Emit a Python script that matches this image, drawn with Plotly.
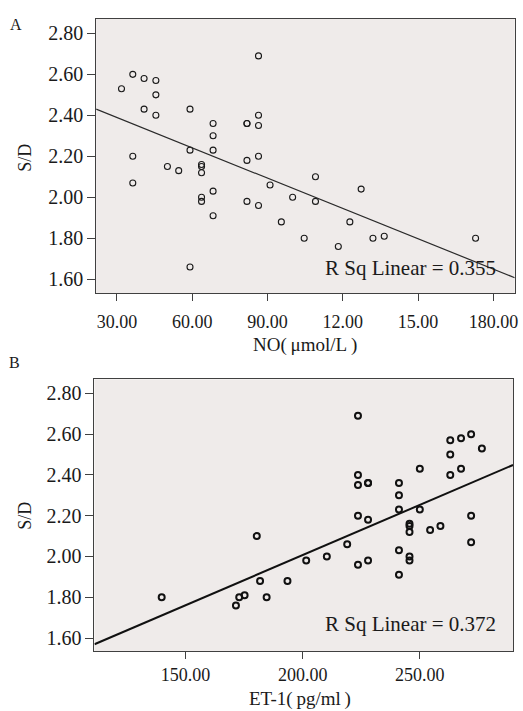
import plotly.graph_objects as go

# ---------------- data ----------------
# Panel A: NO (umol/L) vs S/D
no_values = [31.8, 36.3, 40.8, 45.5, 45.5, 40.8, 45.5, 59.1, 68.3, 68.3,
             59.1, 68.3, 81.8, 81.8, 86.4, 86.4, 86.4, 36.3, 50.1, 54.6,
             63.7, 63.7, 63.7, 81.8, 86.4, 109.1, 36.3, 63.7, 63.7, 68.3,
             68.3, 59.1, 81.8, 86.4, 91.0, 95.5, 100.0, 109.1, 104.6, 118.2,
             122.8, 127.3, 132.0, 136.5, 172.9]
sd_a = [2.53, 2.60, 2.58, 2.57, 2.50, 2.43, 2.40, 2.43, 2.36, 2.30,
        2.23, 2.23, 2.36, 2.36, 2.40, 2.35, 2.69, 2.20, 2.15, 2.13,
        2.16, 2.15, 2.12, 2.18, 2.20, 2.10, 2.07, 2.00, 1.98, 2.03,
        1.91, 1.66, 1.98, 1.96, 2.06, 1.88, 2.00, 1.98, 1.80, 1.76,
        1.88, 2.04, 1.80, 1.81, 1.80]

# Panel B: ET-1 (pg/ml) vs S/D
et1_values = [223.6, 223.6, 223.6, 227.9, 227.9, 241.1, 241.1, 241.1, 250.0, 250.0,
              263.0, 267.6, 271.9, 276.5, 263.0, 263.0, 267.6, 223.6, 227.9, 271.9,
              245.6, 245.6, 245.6, 254.4, 258.8, 271.9, 219.0, 201.5, 210.3, 223.6,
              227.9, 241.1, 245.6, 245.6, 241.1, 180.4, 181.8, 193.5, 139.8, 172.9,
              175.2, 171.5, 184.6]
sd_b = [2.69, 2.40, 2.35, 2.36, 2.36, 2.36, 2.30, 2.23, 2.43, 2.23,
        2.57, 2.58, 2.60, 2.53, 2.50, 2.40, 2.43, 2.20, 2.18, 2.20,
        2.16, 2.15, 2.12, 2.13, 2.15, 2.07, 2.06, 1.98, 2.00, 1.96,
        1.98, 2.03, 2.00, 1.98, 1.91, 2.10, 1.88, 1.88, 1.80, 1.80,
        1.81, 1.76, 1.80]

# fitted lines (intercept, slope)
fit_a = (2.537, -0.00493)
fit_b = (1.023, 0.00492)

# tick labels
y_ticks = [1.60, 1.80, 2.00, 2.20, 2.40, 2.60, 2.80]
y_ticktext = ["1.60", "1.80", "2.00", "2.20", "2.40", "2.60", "2.80"]
xa_ticks = [30, 60, 90, 120, 150, 180]
xa_ticktext = ["30.00", "60.00", "90.00", "12.00", "15.00", "180.00"]
xb_ticks = [150, 200, 250]
xb_ticktext = ["150.00", "200.00", "250.00"]

r2_a = "R Sq Linear = 0.355"
r2_b = "R Sq Linear = 0.372"
xa_title = "NO(\u2009μmol/L\u2009)"
xb_title = "ET-1(\u2009pg/ml\u2009)"
y_title = "S/D"

# ---------------- figure ----------------
W, H = 523, 711
xa_range = [21.7, 188.5]
xb_range = [111.1, 289.8]
ya_range = [1.533, 2.870]
yb_range = [1.535, 2.869]

FONT = "Liberation Serif, Times New Roman, serif"
INK = "#1a1a1a"
BG = "#EFEBEA"

fig = go.Figure()

fig.add_trace(go.Scatter(
    x=no_values, y=sd_a, mode="markers", xaxis="x", yaxis="y",
    marker=dict(symbol="circle-open", size=6, color=INK, line=dict(width=1.1, color=INK)),
    showlegend=False, hoverinfo="x+y"))
fig.add_trace(go.Scatter(
    x=xa_range, y=[fit_a[0] + fit_a[1] * v for v in xa_range], mode="lines",
    xaxis="x", yaxis="y", line=dict(color="#2a2a2a", width=1.2),
    showlegend=False, hoverinfo="skip"))

fig.add_trace(go.Scatter(
    x=et1_values, y=sd_b, mode="markers", xaxis="x2", yaxis="y2",
    marker=dict(symbol="circle-open", size=6, color="#111", line=dict(width=2, color="#111")),
    showlegend=False, hoverinfo="x+y"))
fig.add_trace(go.Scatter(
    x=xb_range, y=[fit_b[0] + fit_b[1] * v for v in xb_range], mode="lines",
    xaxis="x2", yaxis="y2", line=dict(color="#111", width=2),
    showlegend=False, hoverinfo="skip"))


def px_x(p):
    return p / W


def px_y(p):
    return 1 - p / H


axis_common = dict(
    showline=True, mirror=True, linecolor="#404040", linewidth=1,
    showgrid=False, zeroline=False, ticks="outside", tickcolor="#404040",
    tickwidth=1,
)
yfont = dict(family=FONT, size=20, color=INK)
xfont = dict(family=FONT, size=18, color=INK)

fig.update_layout(
    width=W, height=H,
    margin=dict(l=0, r=0, t=0, b=0),
    paper_bgcolor="white", plot_bgcolor=BG,
    font=dict(family=FONT, color=INK),
    xaxis=dict(domain=[px_x(96.7), px_x(517.7)], range=xa_range, anchor="y",
               tickvals=xa_ticks, ticktext=xa_ticktext, ticklen=7, tickfont=xfont,
               ticklabelstandoff=5, **axis_common),
    yaxis=dict(domain=[px_y(293), px_y(19)], range=ya_range, anchor="x",
               tickvals=y_ticks, ticktext=y_ticktext, ticklen=8, tickfont=yfont,
               **axis_common),
    xaxis2=dict(domain=[px_x(95), px_x(516)], range=xb_range, anchor="y2",
                tickvals=xb_ticks, ticktext=xb_ticktext, ticklen=7, tickfont=xfont,
                ticklabelstandoff=0, **axis_common),
    yaxis2=dict(domain=[px_y(651.3), px_y(379.3)], range=yb_range, anchor="x2",
                tickvals=y_ticks, ticktext=y_ticktext, ticklen=8, tickfont=yfont,
                **axis_common),
)

ann = []


def label(text, x, y, size, **kw):
    d = dict(text=text, x=px_x(x), y=px_y(y), xref="paper", yref="paper",
             xanchor="center", yanchor="middle", showarrow=False,
             font=dict(family=FONT, size=size, color=INK))
    d.update(kw)
    return d


# panel letters
ann.append(label("A", 16, 24, 16))
ann.append(label("B", 15, 362, 16))
# axis titles
ann.append(label(xa_title, 307, 345, 19))
ann.append(label(xb_title, 302, 699, 19))
ann.append(label(y_title, 25, 158, 18, textangle=-90))
ann.append(label(y_title, 25, 516, 18, textangle=-90))
# R squared labels
ann.append(label(r2_a, 501, 268.5, 21, xanchor="right"))
ann.append(label(r2_b, 501, 624, 21, xanchor="right"))
fig.update_layout(annotations=ann)

fig.write_html(
    "out.html",
    config={"displayModeBar": False},
    post_script="document.body.style.margin='0';document.body.style.overflow='hidden';",
)
